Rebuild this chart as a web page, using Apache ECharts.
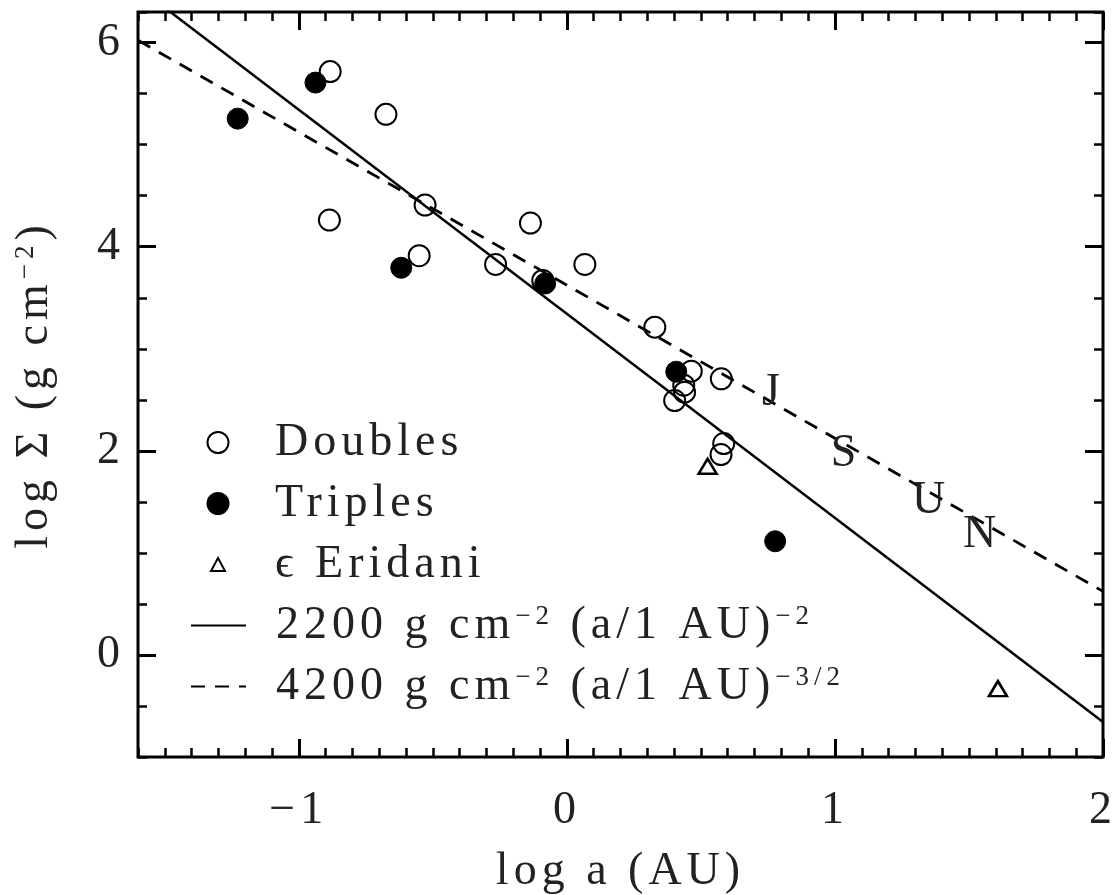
<!DOCTYPE html>
<html>
<head>
<meta charset="utf-8">
<script src="https://cdn.jsdelivr.net/npm/echarts@6/dist/echarts.min.js"></script>
<style>
html,body{margin:0;padding:0;background:#fff;}
#chart{width:1120px;height:895px;}
</style>
</head>
<body>
<div id="chart"></div>
<script>
// ---------------- data ----------------
const doubles = [
  [-0.883, 5.716], [-0.675, 5.297], [-0.886, 4.261], [-0.529, 4.408],
  [-0.136, 4.232], [-0.551, 3.912], [-0.266, 3.826], [0.067, 3.826],
  [-0.090, 3.670], [0.328, 3.212], [0.464, 2.781], [0.576, 2.706],
  [0.436, 2.643], [0.439, 2.575], [0.402, 2.493], [0.585, 2.071],
  [0.575, 1.964]
];
const triples = [
  [-1.228, 5.255], [-0.938, 5.608], [-0.618, 3.794], [-0.081, 3.640],
  [0.408, 2.775], [0.777, 1.114]
];
const eridani = [[0.525, 1.849], [1.608, -0.330]];
const planetNames = ['J', 'S', 'U', 'N'];
const planetPos = [[0.771, 2.568], [1.041, 1.974], [1.359, 1.507], [1.549, 1.172]];
const fitSolid = [[-1.6, 6.542], [2.0, -0.658]];    // 2200 g cm^-2 (a/1AU)^-2
const fitDashed = [[-1.6, 6.023], [2.0, 0.623]];    // 4200 g cm^-2 (a/1AU)^-3/2
const xTicks = [-1, 0, 1, 2];
const yTicks = [0, 2, 4, 6];
const seriesNames = ['Doubles', 'Triples', 'ϵ Eridani',
  '2200 g cm⁻² (a/1 AU)⁻²', '4200 g cm⁻² (a/1 AU)⁻³ᐟ²'];

// ---------------- styling ----------------
const FONT = '"Liberation Serif","DejaVu Serif",serif';
const TXT = '#222';
const LS = '5px';
(function () {
  const p = CanvasRenderingContext2D.prototype;
  if (!('letterSpacing' in p)) return;
  const f = p.fillText, m = p.measureText;
  p.fillText = function () { this.letterSpacing = LS; return f.apply(this, arguments); };
  p.measureText = function () { this.letterSpacing = LS; return m.apply(this, arguments); };
})();

const rich = {
  t: { fontFamily: FONT, fontSize: 46, color: TXT, lineHeight: 50 },
  s: { fontFamily: FONT, fontSize: 27, color: TXT, lineHeight: 31, verticalAlign: 'top' },
  g: { width: 25 }, g2: { width: 45 }
};
const richNames = {
  'Doubles': '{g|}{t|Doubles}',
  'Triples': '{g|}{t|Triples}',
  'ϵ Eridani': '{g2|}{t|ϵ Eridani}',
  '2200 g cm⁻² (a/1 AU)⁻²': '{g|}{t|2200 g cm}{s|\u22122}{t| (a/1 AU)}{s|\u22122}',
  '4200 g cm⁻² (a/1 AU)⁻³ᐟ²': '{g|}{t|4200 g cm}{s|\u22122}{t| (a/1 AU)}{s|\u22123/2}'
};
const fmt = v => String(v).replace('-', '\u2212');

function legendRow(name, cy, left, iw, ih, hideSymbol) {
  const l = {
    data: [name], orient: 'vertical', left: left, top: cy - 25, padding: 0,
    itemWidth: iw, itemHeight: ih, itemGap: 0, selectedMode: false,
    formatter: n => richNames[n],
    textStyle: { fontFamily: FONT, fontSize: 46, color: TXT, lineHeight: 50, rich: rich }
  };
  if (hideSymbol) l.itemStyle = { opacity: 0 };
  return l;
}

const noLine = { show: false, onZero: false };
const xBase = { type: 'value', min: -1.6, max: 2, axisLine: noLine, splitLine: { show: false } };
const yBase = { type: 'value', min: -1, max: 6.3, axisLine: noLine, splitLine: { show: false } };
const major = { show: true, inside: true, length: 18, lineStyle: { color: '#000', width: 3 } };
const minor = { show: true, inside: true, length: 9, lineStyle: { color: '#000', width: 2.5 } };

const option = {
  animation: false,
  backgroundColor: '#fff',
  grid: { left: 138, right: 17, top: 12, bottom: 138, show: true, borderColor: '#000', borderWidth: 3,
          containLabel: false, outerBoundsMode: 'none' },
  xAxis: [
    Object.assign({}, xBase, {
      position: 'bottom',
      axisTick: Object.assign({}, major, { customValues: xTicks }),
      axisLabel: { customValues: xTicks, margin: 28, fontFamily: FONT, fontSize: 46, color: TXT, formatter: fmt },
      name: 'log a (AU)', nameLocation: 'middle', nameGap: 90,
      nameTextStyle: { fontFamily: FONT, fontSize: 46, color: TXT, lineHeight: 50 }
    }),
    Object.assign({}, xBase, { position: 'bottom', interval: 0.1, axisTick: minor, axisLabel: { show: false } }),
    Object.assign({}, xBase, { position: 'top', axisTick: Object.assign({}, major, { customValues: xTicks }), axisLabel: { show: false } }),
    Object.assign({}, xBase, { position: 'top', interval: 0.1, axisTick: minor, axisLabel: { show: false } })
  ],
  yAxis: [
    Object.assign({}, yBase, {
      position: 'left',
      axisTick: Object.assign({}, major, { customValues: yTicks }),
      axisLabel: { customValues: yTicks, margin: 13, fontFamily: FONT, fontSize: 46, color: TXT, formatter: fmt },
      name: '{t|log Σ (g cm}{s|\u22122}{t|)}', nameLocation: 'middle', nameGap: 78, nameRotate: 90,
      nameTextStyle: { fontFamily: FONT, fontSize: 46, color: TXT, lineHeight: 50, rich: rich }
    }),
    Object.assign({}, yBase, { position: 'left', interval: 0.5, axisTick: minor, axisLabel: { show: false } }),
    Object.assign({}, yBase, { position: 'right', axisTick: Object.assign({}, major, { customValues: yTicks }), axisLabel: { show: false } }),
    Object.assign({}, yBase, { position: 'right', interval: 0.5, axisTick: minor, axisLabel: { show: false } })
  ],
  legend: [
    legendRow(seriesNames[0], 442, 206.5, 54, 21, false),
    legendRow(seriesNames[1], 503, 206.5, 54, 21, false),
    legendRow(seriesNames[2], 564, 210, 14, 13, false),
    legendRow(seriesNames[3], 625, 190, 55, 14, true),
    legendRow(seriesNames[4], 686, 190, 55, 14, true)
  ],
  series: [
    { name: seriesNames[3], type: 'line', data: fitSolid, symbol: 'none', clip: true, z: 1,
      itemStyle: { color: '#000' },
      lineStyle: { color: '#000', width: 2.5, type: 'solid' } },
    { name: seriesNames[4], type: 'line', data: fitDashed, symbol: 'none', clip: true, z: 1,
      itemStyle: { color: '#000' },
      lineStyle: { color: '#000', width: 2.8, type: [14, 10] } },
    { name: seriesNames[0], type: 'scatter', data: doubles, symbol: 'circle', symbolSize: 21, z: 3,
      itemStyle: { color: 'rgba(0,0,0,0)', borderColor: '#000', borderWidth: 2, opacity: 1 } },
    { name: seriesNames[1], type: 'scatter', data: triples, symbol: 'circle', symbolSize: 21, z: 3,
      itemStyle: { color: '#000', borderColor: '#000', borderWidth: 1, opacity: 1 } },
    { name: seriesNames[2], type: 'scatter', data: eridani, symbol: 'triangle', symbolSize: [18, 15], z: 3,
      itemStyle: { color: 'rgba(0,0,0,0)', borderColor: '#000', borderWidth: 2.5, opacity: 1 } },
    { name: 'planets', type: 'scatter', symbol: 'circle', symbolSize: 1, z: 2, silent: true,
      itemStyle: { color: 'rgba(0,0,0,0)', opacity: 1 },
      data: planetNames.map((n, i) => ({ name: n, value: planetPos[i] })),
      label: { show: true, position: 'inside', formatter: '{b}', fontFamily: FONT, fontSize: 46, color: TXT, opacity: 1 } }
  ]
};

const chart = echarts.init(document.getElementById('chart'), null, { renderer: 'canvas' });
chart.setOption(option);
</script>
</body>
</html>
